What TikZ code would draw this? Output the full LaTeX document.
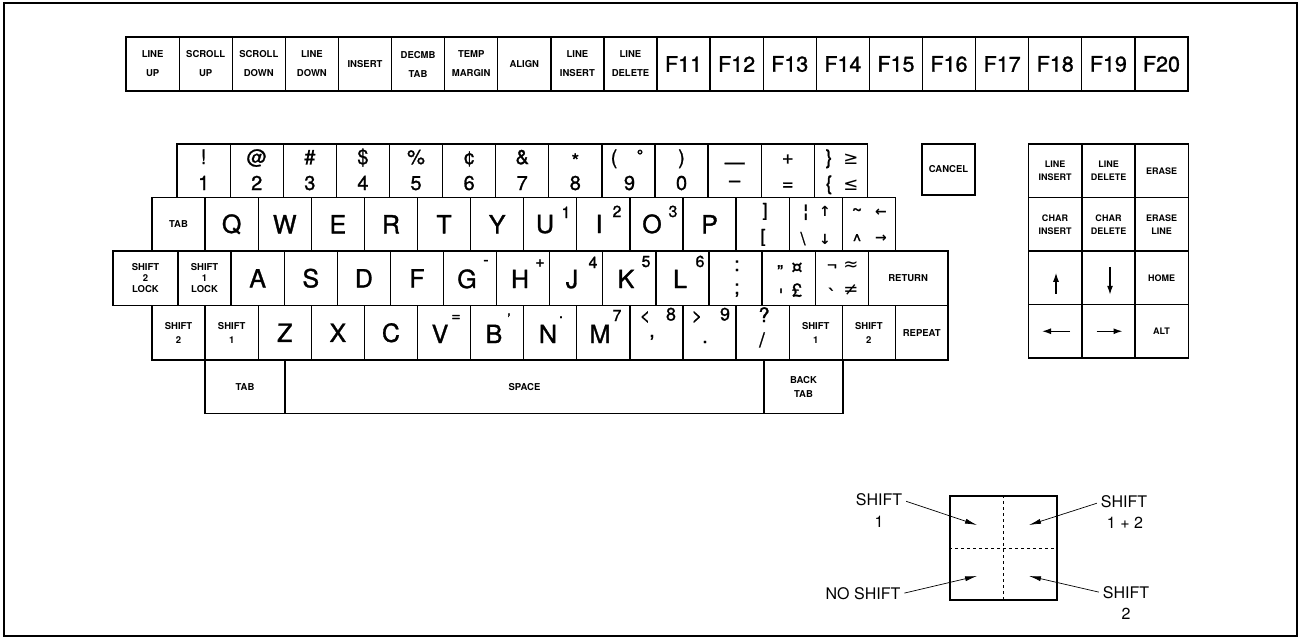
\documentclass[tikz,border=0pt]{standalone}
\usepackage{fontspec}
\setmainfont{TeX Gyre Heros}
\newfontfamily\keyfont[FakeBold=1.2]{TeX Gyre Heros}
\newfontfamily\symfont{DejaVu Sans}
\usetikzlibrary{arrows.meta}

\begin{document}
\begin{tikzpicture}[x=1pt,y=-1pt,
  key/.style={draw, line width=1.3pt, inner sep=0pt, minimum width=53.1pt, minimum height=53.5pt,
    align=center, font=\fontsize{9.5}{14}\bfseries},
  toprow/.style={key, minimum height=54pt, font=\fontsize{9.5}{19}\bfseries},
  fkey/.style={key, minimum height=54pt, font=\fontsize{21.5}{24}\keyfont},
  padkey/.style={key, minimum width=53.3pt, font=\fontsize{9}{13}\bfseries},
  letterkey/.style={key, font=\fontsize{25}{25}\keyfont},
  glyph/.style={anchor=base, inner sep=0pt, font=\fontsize{20}{20}\keyfont},
  letter/.style={glyph, font=\fontsize{25}{25}\keyfont},
  mid/.style={glyph, font=\fontsize{18}{18}\keyfont},
  sup/.style={glyph, font=\fontsize{16}{16}\keyfont},
  tiny/.style={glyph, font=\fontsize{14}{14}\symfont\bfseries},
  legend/.style={inner sep=0pt, font=\fontsize{16}{16}\selectfont},
  padarrow/.style={-{Latex[length=9pt,width=6pt]}, line width=1.3pt},
  pointer/.style={-{Latex[length=12pt,width=5pt]}, line width=0.7pt, shorten <=4pt}]

  \useasboundingbox (0,0) rectangle (1302,638);
  \draw[line width=2pt] (4,3) rectangle (1297,636);

  % top row
  \node[toprow] (lineup)   at (152.6,64) {LINE\\UP};
  \node[toprow] (scrollup) at (205.7,64) {SCROLL\\UP};
  \node[toprow] (scrolldn) at (258.8,64) {SCROLL\\DOWN};
  \node[toprow] (linedn)   at (311.9,64) {LINE\\DOWN};
  \node[toprow] (insert)   at (365.0,64) {INSERT};
  \node[toprow] (decmb)    at (418.1,64) {DECMB\\TAB};
  \node[toprow] (temp)     at (471.2,64) {TEMP\\MARGIN};
  \node[toprow] (alignkey) at (524.3,64) {ALIGN};
  \node[toprow] (lineins)  at (577.4,64) {LINE\\INSERT};
  \node[toprow] (linedel)  at (630.5,64) {LINE\\DELETE};
  \foreach \n [count=\i from 10] in {11,...,20}
    \node[fkey] (f\n) at ({152.55+53.1*\i},64) {F\n};

  % number row
  \node[key] (k1) at (203.65,170.75) {};
  \node[glyph] (k1s) at (203.65,164) {!};
  \node[glyph] (k1d) at (203.65,190) {1};
  \node[key] (k2) at (256.75,170.75) {};
  \node[glyph] (k2s) at (256.75,164) {@};
  \node[glyph] (k2d) at (256.75,190) {2};
  \node[key] (k3) at (309.85,170.75) {};
  \node[glyph] (k3s) at (309.85,164) {\#};
  \node[glyph] (k3d) at (309.85,190) {3};
  \node[key] (k4) at (362.95,170.75) {};
  \node[glyph] (k4s) at (362.95,164) {\$};
  \node[glyph] (k4d) at (362.95,190) {4};
  \node[key] (k5) at (416.05,170.75) {};
  \node[glyph] (k5s) at (416.05,164) {\%};
  \node[glyph] (k5d) at (416.05,190) {5};
  \node[key] (k6) at (469.15,170.75) {};
  \node[glyph] (k6s) at (469.15,164) {¢};
  \node[glyph] (k6d) at (469.15,190) {6};
  \node[key] (k7) at (522.25,170.75) {};
  \node[glyph] (k7s) at (522.25,164) {\&};
  \node[glyph] (k7d) at (522.25,190) {7};
  \node[key] (k8) at (575.35,170.75) {};
  \node[glyph] (k8s) at (575.35,168) {*};
  \node[glyph] (k8d) at (575.35,190) {8};
  \node[key] (k9) at (628.45,170.75) {};
  \node[glyph] (k9s) at (614,164) {(};
  \node[sup] (k9o) at (640,161) {°};
  \node[glyph] (k9d) at (629.5,190) {9};
  \node[key] (k0) at (681.55,170.75) {};
  \node[glyph] (k0s) at (681.55,164) {)};
  \node[glyph] (k0d) at (681.55,190) {0};
  \node[key] (kminus) at (734.65,170.75) {};
  \node[glyph] (kminuss) at (734.65,169) {—};
  \node[glyph] (kminusd) at (734.65,187) {–};
  \node[key] (kplus) at (787.75,170.75) {};
  \node[glyph] (kpluss) at (787.75,164) {+};
  \node[glyph] (kplusd) at (787.75,190) {=};
  \node[key] (kbrace) at (840.85,170.75) {};
  \node[glyph] (kbraces) at (829,164) {\}};
  \node[glyph, font=\fontsize{18}{18}\symfont] (kges) at (851,164) {≥};
  \node[glyph] (kbraced) at (829,190) {\{};
  \node[glyph, font=\fontsize{18}{18}\symfont] (kled) at (851,190) {≤};

  \node[key, minimum height=51pt] (cancel) at (948.5,169.5) {CANCEL};

  % qwerty row
  \node[key] (tab) at (178.5,224.25) {TAB};
  \node[letterkey] (q) at (231.65,224.25) {Q};
  \node[letterkey] (w) at (284.75,224.25) {W};
  \node[letterkey] (e) at (337.85,224.25) {E};
  \node[letterkey] (r) at (390.95,224.25) {R};
  \node[letterkey] (t) at (444.05,224.25) {T};
  \node[letterkey] (y) at (497.15,224.25) {Y};
  \node[key] (u) at (550.25,224.25) {};
  \node[letter] (uL) at (545,233) {U};
  \node[sup] (uS) at (566,218) {1};
  \node[key] (i) at (603.35,224.25) {};
  \node[letter] (iL) at (599,233) {I};
  \node[sup] (iS) at (617,217) {2};
  \node[key] (o) at (656.45,224.25) {};
  \node[letter] (oL) at (652,233) {O};
  \node[sup] (oS) at (673,217) {3};
  \node[letterkey] (p) at (709.55,224.25) {P};
  \node[key] (kbrack) at (762.65,224.25) {};
  \node[mid] (kbracks) at (765,216) {]};
  \node[mid] (kbrackd) at (763,242) {[};
  \node[key] (kbar) at (815.75,224.25) {};
  \node[mid, font=\fontsize{18}{18}\symfont\bfseries] (kbars) at (806,217) {¦};
  \node[mid] (kbard) at (803,245) {\textbackslash};
  \node[tiny] (kbarup) at (825,216) {↑};
  \node[tiny] (kbardn) at (825,244) {↓};
  \node[key] (ktilde) at (868.85,224.25) {};
  \node[mid] (ktildes) at (857,216) {\textasciitilde};
  \node[mid] (ktilded) at (857,247) {\textasciicircum};
  \node[tiny] (ktildel) at (881,216) {←};
  \node[tiny] (ktilder) at (881,242) {→};

  % home row
  \node[key, minimum width=65pt, minimum height=54.5pt, font=\fontsize{9.5}{11}\bfseries] (lock2) at (145.5,278.25) {SHIFT\\2\\LOCK};
  \node[key, minimum height=54.5pt, font=\fontsize{9.5}{11}\bfseries] (lock1) at (204.55,278.25) {SHIFT\\1\\LOCK};
  \node[letterkey, minimum height=54.5pt] (a) at (257.65,278.25) {A};
  \node[letterkey, minimum height=54.5pt] (s) at (310.75,278.25) {S};
  \node[letterkey, minimum height=54.5pt] (d) at (363.85,278.25) {D};
  \node[letterkey, minimum height=54.5pt] (f) at (416.95,278.25) {F};
  \node[key, minimum height=54.5pt] (g) at (470.05,278.25) {};
  \node[letter] (gL) at (467,288) {G};
  \node[sup] (gS) at (486,265) {-};
  \node[key, minimum height=54.5pt] (h) at (523.15,278.25) {};
  \node[letter] (hL) at (520,288) {H};
  \node[sup] (hS) at (540,267) {+};
  \node[key, minimum height=54.5pt] (j) at (576.25,278.25) {};
  \node[letter] (jL) at (572,288) {J};
  \node[sup] (jS) at (593,268) {4};
  \node[key, minimum height=54.5pt] (k) at (629.35,278.25) {};
  \node[letter] (kL) at (626,288) {K};
  \node[sup] (kS) at (646,267) {5};
  \node[key, minimum height=54.5pt] (l) at (682.45,278.25) {};
  \node[letter] (lL) at (680,288) {L};
  \node[sup] (lS) at (700,267) {6};
  \node[key, minimum height=54.5pt] (kcolon) at (735.55,278.25) {};
  \node[glyph] (kcolons) at (737,271) {:};
  \node[glyph] (kcolond) at (737,294) {;};
  \node[key, minimum height=54.5pt] (kquote) at (788.65,278.25) {};
  \node[mid] (kquotes) at (780,278) {”};
  \node[mid, font=\fontsize{18}{18}\symfont\bfseries] (kcurr) at (797,273) {¤};
  \node[mid, font=\fontsize{18}{18}\symfont\bfseries] (kquoted) at (781,302) {ˈ};
  \node[mid] (kpound) at (797,296.5) {£};
  \node[key, minimum height=54.5pt] (knot) at (841.75,278.25) {};
  \node[mid] (knots) at (832,271) {¬};
  \node[mid, font=\fontsize{18}{18}\symfont] (kapprox) at (851,270) {≈};
  \node[mid, font=\fontsize{18}{18}\symfont\bfseries] (kgrave) at (832,302) {ˋ};
  \node[mid, font=\fontsize{18}{18}\symfont] (kneq) at (851,295) {≠};
  \node[key, minimum width=79.7pt, minimum height=54.5pt] (return) at (908.15,278.25) {RETURN};

  % bottom letter row
  \node[key, minimum height=54.5pt] (shl2) at (178.55,332.75) {SHIFT\\2};
  \node[key, minimum height=54.5pt] (shl1) at (231.65,332.75) {SHIFT\\1};
  \node[letterkey, minimum height=54.5pt] (z) at (284.75,332.75) {Z};
  \node[letterkey, minimum height=54.5pt] (x) at (337.85,332.75) {X};
  \node[letterkey, minimum height=54.5pt] (c) at (390.95,332.75) {C};
  \node[key, minimum height=54.5pt] (v) at (444.05,332.75) {};
  \node[letter] (vL) at (440,343) {V};
  \node[sup] (vS) at (456,321) {=};
  \node[key, minimum height=54.5pt] (b) at (497.15,332.75) {};
  \node[letter] (bL) at (494,343) {B};
  \node[sup] (bS) at (509,325) {’};
  \node[key, minimum height=54.5pt] (n) at (550.25,332.75) {};
  \node[letter] (nL) at (548,343) {N};
  \node[sup] (nS) at (561,318) {.};
  \node[key, minimum height=54.5pt] (m) at (603.35,332.75) {};
  \node[letter] (mL) at (600,343) {M};
  \node[sup] (mS) at (617,321) {7};
  \node[key, minimum height=54.5pt] (kcomma) at (656.45,332.75) {};
  \node[mid] (kcommal) at (645,321.5) {<};
  \node[mid] (kcomman) at (671,320.5) {8};
  \node[glyph] (kcommad) at (652,337) {,};
  \node[key, minimum height=54.5pt] (kdot) at (709.55,332.75) {};
  \node[mid] (kdotg) at (697,321.5) {>};
  \node[mid] (kdotn) at (725,320.5) {9};
  \node[glyph] (kdotd) at (705,343) {.};
  \node[key, minimum height=54.5pt] (kslash) at (762.65,332.75) {};
  \node[glyph] (kslashs) at (764,322) {?};
  \node[glyph] (kslashd) at (762,347) {/};
  \node[key, minimum height=54.5pt] (shr1) at (815.75,332.75) {SHIFT\\1};
  \node[key, minimum height=54.5pt] (shr2) at (868.85,332.75) {SHIFT\\2};
  \node[key, minimum width=52.6pt, minimum height=54.5pt] (repeat) at (921.7,332.75) {REPEAT};

  % space row
  \node[key, minimum width=80pt] (tab2) at (245,386.75) {TAB};
  \node[key, minimum width=479pt] (space) at (524.5,386.75) {SPACE};
  \node[key, minimum width=79pt] (backtab) at (803.5,386.75) {BACK\\TAB};

  % edit pad
  \node[padkey] (pins) at (1055,170.75) {LINE\\INSERT};
  \node[padkey] (pdel) at (1108.5,170.75) {LINE\\DELETE};
  \node[padkey] (perase) at (1161.5,170.75) {ERASE};
  \node[padkey] (pcins) at (1055,224.25) {CHAR\\INSERT};
  \node[padkey] (pcdel) at (1108.5,224.25) {CHAR\\DELETE};
  \node[padkey] (peline) at (1161.5,224.25) {ERASE\\LINE};
  \node[padkey] (pup) at (1055,277.75) {};
  \node[padkey] (pdown) at (1108.5,277.75) {};
  \node[padkey] (phome) at (1161.5,277.75) {HOME};
  \node[padkey] (pleft) at (1055,331.25) {};
  \node[padkey] (pright) at (1108.5,331.25) {};
  \node[padkey] (palt) at (1161.5,331.25) {ALT};
  \draw[padarrow] ([xshift=1pt,yshift=-16pt]pup.center) -- ([xshift=1pt,yshift=5pt]pup.center);
  \draw[padarrow] ([xshift=1.5pt,yshift=11pt]pdown.center) -- ([xshift=1.5pt,yshift=-17pt]pdown.center);
  \draw[padarrow] ([xshift=15pt]pleft.center) -- ([xshift=-13pt]pleft.center);
  \draw[padarrow] ([xshift=-12pt]pright.center) -- ([xshift=14pt]pright.center);

  % shift legend
  \node[draw, line width=1.3pt, inner sep=0pt, minimum width=107pt, minimum height=104pt] (shiftbox) at (1003.5,548) {};
  \draw[dashed, line width=0.9pt] (shiftbox.north) -- (shiftbox.south);
  \draw[dashed, line width=0.9pt] (shiftbox.west) -- (shiftbox.east);
  \node[legend] (s1) at (879,500) {SHIFT};
  \node[legend] (s1b) at (879,522) {1};
  \node[legend] (s12) at (1124,502) {SHIFT};
  \node[legend] (s12b) at (1125,523) {1 + 2};
  \node[legend] (s0) at (863,594) {NO SHIFT};
  \node[legend] (s2) at (1126,593) {SHIFT};
  \node[legend] (s2b) at (1126,614) {2};
  \coordinate (t1) at (977,525);
  \coordinate (t12) at (1029,525);
  \coordinate (t0) at (977,576);
  \coordinate (t2) at (1029,576);
  \draw[pointer] (s1.east) -- (t1);
  \draw[pointer] (s12.west) -- (t12);
  \draw[pointer] (s0.east) -- (t0);
  \draw[pointer] (s2.west) -- (t2);

\end{tikzpicture}
\end{document}
